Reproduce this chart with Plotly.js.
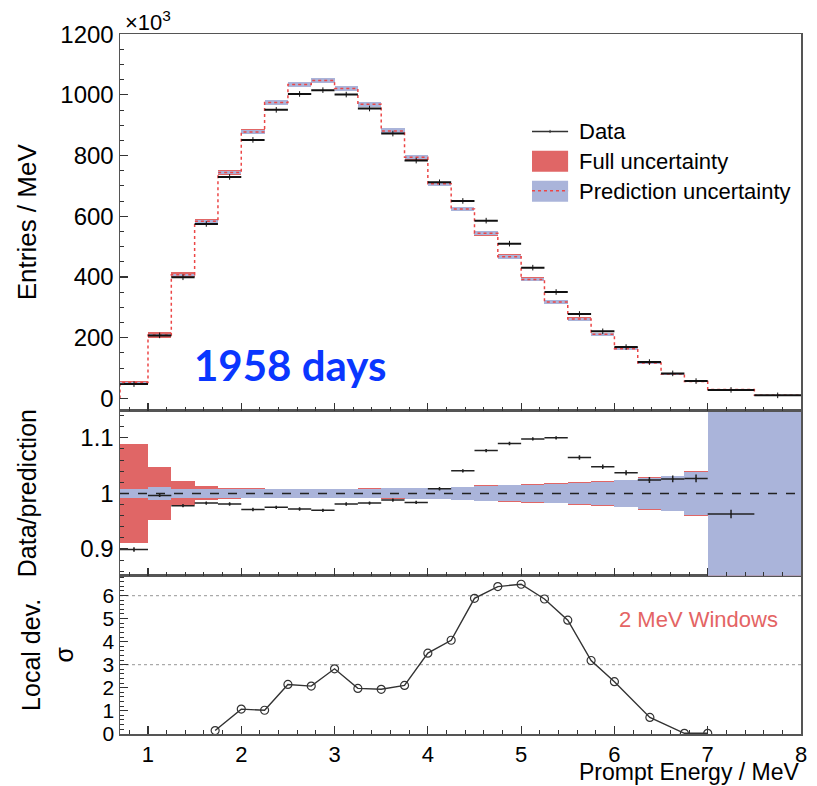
<!DOCTYPE html>
<html>
<head>
<meta charset="utf-8">
<script src="https://cdn.plot.ly/plotly-3.0.1.min.js"></script>
<style>html,body{margin:0;padding:0;background:#fff;}#plot{width:817px;height:786px;}</style>
</head>
<body>
<div id="plot"></div>
<script>
// ---------- DATA ----------
// Top panel bin edges (MeV)
const binEdges = [0.7,1.0,1.25,1.5,1.75,2.0,2.25,2.5,2.75,3.0,3.25,3.5,3.75,4.0,4.25,4.5,4.75,5.0,5.25,5.5,5.75,6.0,6.25,6.5,6.75,7.0,7.5,8.0];
// Entries / MeV (x10^3)
const dataPerMeV = [47,207.6,399,574.7,729.6,851.6,950.6,1003,1015.5,1001,955,872.5,783.4,712,650.5,585.6,509.8,430.7,350.5,278,221,169,119.7,82.4,57,28,10];
const predPerMeV = [52,208.5,407.6,583.5,744,878,974.6,1034,1047,1021,969,881.3,794.6,707,624,544,467,392,317.5,261.5,211,163.6,116.8,80.3,55.5,29,10.5];
// relative uncertainties in top panel
const fullUncTop = [0.089,0.048,0.0215,0.0125,0.0098,0.009,0.0088,0.0088,0.0088,0.0088,0.009,0.0095,0.010,0.0105,0.012,0.0145,0.0155,0.017,0.018,0.020,0.022,0.025,0.029,0.032,0.040,0.045,0.05];
const predUncTop = [0.0085,0.011,0.0085,0.0085,0.0085,0.0085,0.0085,0.0085,0.0085,0.0085,0.0085,0.009,0.0095,0.010,0.011,0.0132,0.0144,0.016,0.017,0.019,0.021,0.024,0.028,0.031,0.039,0.04,0.045];

// Ratio panel bands (last band 7-8 MeV)
const ratioBandEdges = [0.7,1.0,1.25,1.5,1.75,2.0,2.25,2.5,2.75,3.0,3.25,3.5,3.75,4.0,4.25,4.5,4.75,5.0,5.25,5.5,5.75,6.0,6.25,6.5,6.75,7.0,8.0];
const ratioFullUnc = [0.089,0.048,0.0215,0.0125,0.0098,0.009,0.0088,0.0088,0.0088,0.0088,0.009,0.0095,0.010,0.0105,0.012,0.0145,0.0155,0.017,0.018,0.020,0.022,0.025,0.029,0.032,0.040,0.5];
const ratioPredUnc = [0.0085,0.011,0.0085,0.0085,0.0085,0.0085,0.0085,0.0085,0.0085,0.0085,0.0085,0.009,0.0095,0.010,0.011,0.0132,0.0144,0.016,0.017,0.019,0.021,0.024,0.028,0.031,0.039,0.5];
// Ratio data points (bins 0.7 ... 7.5 MeV)
const ratioDataEdges = [0.7,1.0,1.25,1.5,1.75,2.0,2.25,2.5,2.75,3.0,3.25,3.5,3.75,4.0,4.25,4.5,4.75,5.0,5.25,5.5,5.75,6.0,6.25,6.5,6.75,7.0,7.5];
const ratioData = [0.899,0.9964,0.978,0.9826,0.981,0.971,0.975,0.972,0.9695,0.981,0.9826,0.988,0.9838,1.0083,1.0406,1.077,1.0897,1.098,1.0999,1.0646,1.0478,1.037,1.024,1.026,1.027,0.963];
const ratioErr  = [0.004,0.003,0.003,0.003,0.003,0.003,0.003,0.003,0.003,0.003,0.003,0.003,0.003,0.003,0.003,0.003,0.003,0.003,0.003,0.004,0.004,0.0045,0.0054,0.006,0.007,0.0075];

// Local deviation (2 MeV windows)
const localDevE = [1.72,2.0,2.25,2.5,2.75,3.0,3.25,3.5,3.75,4.0,4.25,4.5,4.75,5.0,5.25,5.5,5.75,6.0,6.38,6.75,7.0];
const localDevSigma = [0.14,1.07,1.02,2.14,2.07,2.82,1.97,1.93,2.10,3.50,4.06,5.88,6.39,6.49,5.85,4.93,3.18,2.26,0.71,0.02,0.02];

// ---------- HELPERS ----------
const centers = e => e.slice(0,-1).map((v,i)=>(v+e[i+1])/2);
const widths  = e => e.slice(0,-1).map((v,i)=>e[i+1]-v);
const halfW   = e => widths(e).map(w=>w/2);

const RED = 'rgb(224,102,102)';
const BLUE = 'rgb(170,180,218)';
const DOT_RED = 'rgb(236,70,70)';
const FONT = 'Liberation Sans, Arial, sans-serif';

const cTop = centers(binEdges), wTop = widths(binEdges);
const cRB = centers(ratioBandEdges), wRB = widths(ratioBandEdges);
const cRD = centers(ratioDataEdges), hRD = halfW(ratioDataEdges);

const traces = [
  {type:'bar', x:cTop, width:wTop, base:predPerMeV.map((p,i)=>p*(1-fullUncTop[i])), y:predPerMeV.map((p,i)=>2*p*fullUncTop[i]),
   marker:{color:RED, line:{width:0}}, xaxis:'x3', yaxis:'y3', showlegend:false, hoverinfo:'skip'},
  {type:'bar', x:cTop, width:wTop, base:predPerMeV.map((p,i)=>p*(1-predUncTop[i])), y:predPerMeV.map((p,i)=>2*p*predUncTop[i]),
   marker:{color:BLUE, line:{width:0}}, xaxis:'x3', yaxis:'y3', showlegend:false, hoverinfo:'skip'},
  {type:'scatter', mode:'lines', x:[binEdges[0]].concat(binEdges), y:[0].concat(predPerMeV, [predPerMeV[predPerMeV.length-1]]),
   line:{shape:'hv', dash:'dot', color:DOT_RED, width:1.5}, xaxis:'x3', yaxis:'y3', showlegend:false},
  {type:'scatter', mode:'markers', x:cTop, y:dataPerMeV,
   error_x:{type:'data', array:halfW(binEdges), color:'#111', thickness:2, width:0},
   marker:{symbol:'line-ns-open', size:4, color:'#111', line:{width:1, color:'#111'}},
   xaxis:'x3', yaxis:'y3', showlegend:false},
  {type:'bar', x:cRB, width:wRB, base:ratioFullUnc.map(u=>1-u), y:ratioFullUnc.map(u=>2*u),
   marker:{color:RED, line:{width:0}}, xaxis:'x2', yaxis:'y2', showlegend:false, hoverinfo:'skip'},
  {type:'bar', x:cRB, width:wRB, base:ratioPredUnc.map(u=>1-u), y:ratioPredUnc.map(u=>2*u),
   marker:{color:BLUE, line:{width:0}}, xaxis:'x2', yaxis:'y2', showlegend:false, hoverinfo:'skip'},
  {type:'scatter', mode:'markers', x:cRD, y:ratioData,
   error_x:{type:'data', array:hRD, color:'#222', thickness:1.5, width:0},
   error_y:{type:'data', array:ratioErr, color:'#222', thickness:1.5, width:0},
   marker:{size:2, color:'#222'}, xaxis:'x2', yaxis:'y2', showlegend:false},
  {type:'scatter', mode:'lines+markers', x:localDevE, y:localDevSigma,
   line:{color:'#333', width:1.4}, marker:{symbol:'circle-open', size:8, color:'#333', line:{width:1.2}},
   xaxis:'x', yaxis:'y', showlegend:false}
];

const axisCommon = {
  range:[0.7,8], showline:true, mirror:true, linecolor:'#555', linewidth:1.5,
  ticks:'inside', ticklen:8, tickcolor:'#333', tickwidth:1.2, dtick:1, tick0:0,
  minor:{ticks:'inside', dtick:0.2, tick0:0, ticklen:4, tickcolor:'#333', tickwidth:1, showgrid:false},
  showgrid:false, zeroline:false, fixedrange:true,
  tickfont:{family:FONT, size:24, color:'#000'}
};
const yCommon = Object.assign({}, axisCommon);
delete yCommon.range; delete yCommon.dtick;

const layout = {
  width:817, height:786,
  margin:{l:120, r:16, t:34, b:52},
  paper_bgcolor:'#fff', plot_bgcolor:'rgba(0,0,0,0)',
  barmode:'overlay', bargap:0,
  showlegend:false,
  font:{family:FONT, color:'#000'},
  xaxis: Object.assign({}, axisCommon, {anchor:'y', showticklabels:true,
     tickfont:{family:FONT, size:22, color:'#000'}}),
  xaxis2: Object.assign({}, axisCommon, {anchor:'y2', showticklabels:false}),
  xaxis3: Object.assign({}, axisCommon, {anchor:'y3', showticklabels:false}),
  yaxis: Object.assign({}, yCommon, {domain:[0,0.2261], anchor:'x', range:[-0.01,6.86], dtick:1, tick0:0,
     tickfont:{family:FONT, size:21, color:'#000'},
     minor:{ticks:'inside', dtick:0.2, tick0:0, ticklen:4, tickcolor:'#333', tickwidth:1},
     title:{text:'Local dev.<br>σ', font:{family:FONT, size:25, color:'#000'}, standoff:22}}),
  yaxis2: Object.assign({}, yCommon, {domain:[0.2261,0.4621], anchor:'x2', range:[0.852,1.149],
     tickvals:[0.9,1,1.1], ticktext:['0.9','1','1.1'],
     minor:{ticks:'inside', dtick:0.02, tick0:0, ticklen:4, tickcolor:'#333', tickwidth:1},
     title:{text:'Data/prediction', font:{family:FONT, size:25, color:'#000'}, standoff:36}}),
  yaxis3: Object.assign({}, yCommon, {domain:[0.4621,1], anchor:'x3', range:[-40,1200.5], dtick:200, tick0:0,
     minor:{ticks:'inside', dtick:50, tick0:0, ticklen:4, tickcolor:'#333', tickwidth:1},
     title:{text:'Entries / MeV', font:{family:FONT, size:26, color:'#000'}, standoff:16}}),
  shapes:[
    {type:'line', xref:'x2', yref:'y2', x0:0.7, x1:8, y0:1, y1:1, line:{color:'#222', width:1.5, dash:'dash'}, layer:'above'},
    {type:'line', xref:'x', yref:'y', x0:0.7, x1:8, y0:3, y1:3, line:{color:'#aaa', width:1.2, dash:'dot'}, layer:'below'},
    {type:'line', xref:'x', yref:'y', x0:0.7, x1:8, y0:6, y1:6, line:{color:'#aaa', width:1.2, dash:'dot'}, layer:'below'},
    {type:'line', xref:'paper', yref:'paper', x0:0.605, x1:0.658, y0:0.8607, y1:0.8607, line:{color:'#333', width:1.5}},
    {type:'line', xref:'paper', yref:'paper', x0:0.6315, x1:0.6315, y0:0.8585, y1:0.863, line:{color:'#333', width:1}},
    {type:'rect', xref:'paper', yref:'paper', x0:0.605, x1:0.658, y0:0.8033, y1:0.8333, fillcolor:RED, line:{width:0}},
    {type:'rect', xref:'paper', yref:'paper', x0:0.605, x1:0.658, y0:0.7604, y1:0.7904, fillcolor:BLUE, line:{width:0}},
    {type:'line', xref:'paper', yref:'paper', x0:0.605, x1:0.658, y0:0.7761, y1:0.7761, line:{color:DOT_RED, width:1.5, dash:'dot'}}
  ],
  annotations:[
    {xref:'paper', yref:'paper', x:0.6711, y:0.8614, xanchor:'left', yanchor:'middle', showarrow:false, text:'Data', font:{family:FONT, size:22, color:'#000'}},
    {xref:'paper', yref:'paper', x:0.6711, y:0.8179, xanchor:'left', yanchor:'middle', showarrow:false, text:'Full uncertainty', font:{family:FONT, size:22, color:'#000'}},
    {xref:'paper', yref:'paper', x:0.6711, y:0.7757, xanchor:'left', yanchor:'middle', showarrow:false, text:'Prediction uncertainty', font:{family:FONT, size:22, color:'#000'}},
    {xref:'x3', yref:'y3', x:2.52, y:110, xanchor:'center', yanchor:'middle', showarrow:false, text:'<b>1958 days</b>', font:{family:'Lato, sans-serif', size:42, color:'#0a36ff'}},
    {xref:'paper', yref:'paper', x:0.004, y:1.018, xanchor:'left', yanchor:'middle', showarrow:false, text:'×10<sup>3</sup>', font:{family:FONT, size:22, color:'#000'}},
    {xref:'x', yref:'y', x:6.9, y:4.98, xanchor:'center', yanchor:'middle', showarrow:false, text:'2 MeV Windows', font:{family:FONT, size:22, color:'rgb(228,100,100)'}},
    {xref:'paper', yref:'paper', x:1.0, y:-0.0743, xanchor:'right', yanchor:'bottom', showarrow:false, borderpad:0, text:'Prompt Energy / MeV', font:{family:FONT, size:23, color:'#000'}}
  ]
};

Plotly.newPlot('plot', traces, layout, {displayModeBar:false, staticPlot:true});
</script>
</body>
</html>
